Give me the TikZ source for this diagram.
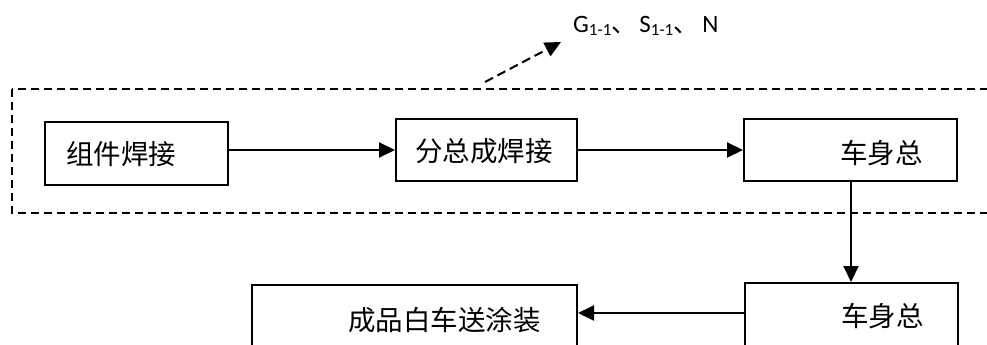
\documentclass[tikz,border=0pt]{standalone}
\usepackage{fontspec}
\setmainfont{Carlito}
\newfontfamily\cjk{Noto Sans CJK SC}
\usetikzlibrary{arrows.meta,calc}
\begin{document}
\begin{tikzpicture}[x=1pt,y=-1pt,
  box/.style={draw,line width=2pt,minimum width=#1,inner sep=0pt,rectangle},
  txt/.style={anchor=west,inner sep=0pt,font=\cjk\fontsize{27.5}{32}\selectfont},
  conn/.style={line width=2pt,-{Triangle[length=16pt,width=15pt]}},
  dconn/.style={line width=2pt,dash pattern=on 9pt off 5pt,-{Triangle[length=16pt,width=15pt]}}]
\useasboundingbox (0,0) rectangle (987,345);
\clip (0,0) rectangle (987,345);
% dashed frame
\draw[line width=1.6pt,dash pattern=on 8pt off 5pt] (12,89) rectangle (1000,213);
% boxes
\node[box=183pt,minimum height=63pt] (b1) at (136.5,153.5) {};
\node[box=181pt,minimum height=62pt] (b2) at (486.5,150) {};
\node[box=213pt,minimum height=62pt] (b3) at (850.5,150) {};
\node[box=213pt,minimum height=80pt] (b4) at (851.5,323) {};
\node[box=325pt,minimum height=80pt] (b5) at (414.5,325) {};
% texts
\node[txt] (t1) at (66,154) {组件焊接};
\node[txt] (t2) at (415,151) {分总成焊接};
\node[txt] (t3) at (840,153) {车身总};
\node[txt] (t4) at (841,316) {车身总};
\node[txt] (t5) at (348,320) {成品白车送涂装};
% label
\node[anchor=base west,inner sep=0pt,font=\fontsize{25}{30}\selectfont] (lbl) at (573,33)
  {G\raisebox{-2.5pt}{\fontsize{17}{18}\selectfont 1-1}{\cjk 、}\hspace{3pt}S\raisebox{-2.5pt}{\fontsize{17}{18}\selectfont 1-1}{\cjk 、}\hspace{4pt}N};
\coordinate (ds) at (485,82);
\coordinate (de) at (561,42);
% connectors
\draw[conn] (b2.west -| b1.east) -- (b2.west);
\draw[conn] (b2.east) -- (b3.west);
\draw[conn] ($(b3.south)+(0.5,0)$) -- ($(b3.south |- b4.north)+(0.5,0)$);
\draw[conn] ($(b4.west)+(0,-10)$) -- ($(b4.west -| b5.east)+(0,-10)$);
\draw[dconn] (ds) -- (de);
\end{tikzpicture}
\end{document}
